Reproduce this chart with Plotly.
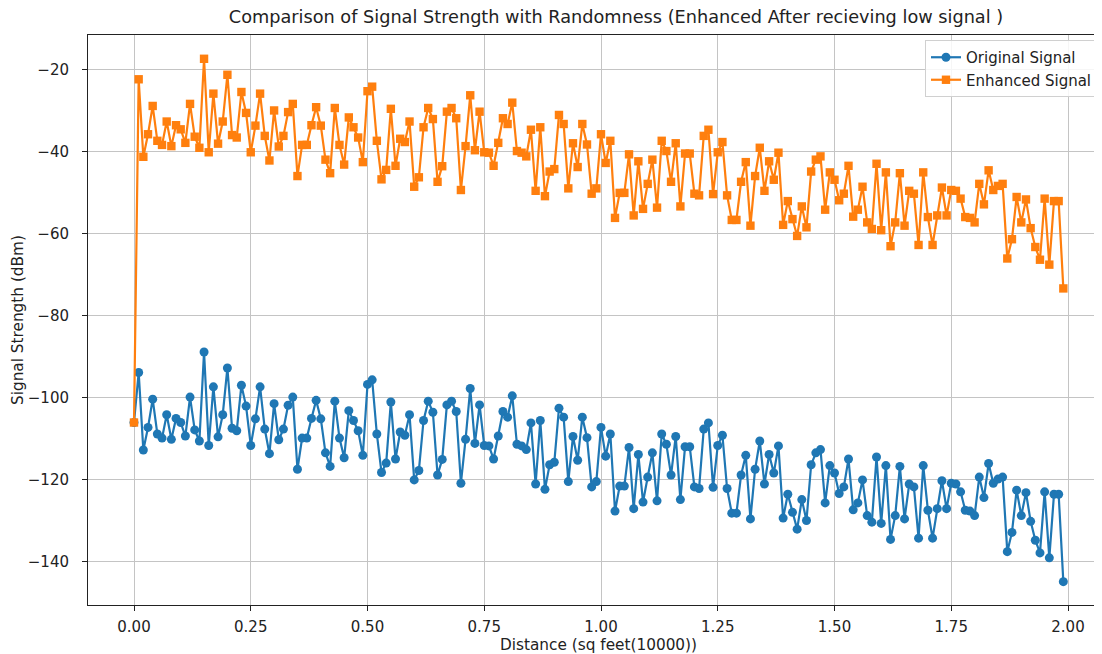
import plotly.graph_objects as go

distance = [round(i * 0.01, 2) for i in range(200)]

original_signal = [
    -106.0, -93.8, -112.7, -107.2, -100.3, -108.8, -109.8, -104.1, -110.1, -105.0,
    -106.0, -109.3, -99.8, -107.8, -110.5, -88.8, -111.6, -97.3, -109.5, -104.1,
    -92.7, -107.4, -108.0, -96.9, -102.0, -111.6, -105.1, -97.3, -107.6, -113.6,
    -101.4, -110.2, -107.6, -101.8, -99.8, -117.4, -109.8, -109.8, -105.0, -100.6,
    -105.1, -113.4, -116.7, -100.8, -109.8, -114.6, -103.1, -105.5, -108.0, -114.0,
    -96.7, -95.6, -108.8, -118.2, -115.9, -101.0, -114.9, -108.3, -109.1, -104.1,
    -120.0, -117.7, -105.5, -100.8, -103.5, -118.8, -115.0, -101.7, -100.8, -103.3,
    -120.8, -110.1, -97.7, -111.1, -101.7, -111.6, -111.7, -114.9, -109.3, -103.3,
    -104.7, -99.5, -111.3, -111.7, -112.6, -106.1, -121.0, -105.5, -122.3, -116.3,
    -115.7, -102.5, -104.7, -120.4, -109.4, -115.2, -104.7, -109.7, -121.7, -120.4,
    -107.2, -114.2, -108.8, -127.6, -121.5, -121.5, -112.1, -127.0, -113.8, -125.4,
    -119.3, -113.4, -125.1, -108.8, -111.3, -118.8, -109.4, -124.8, -111.9, -111.9,
    -121.7, -122.1, -107.6, -106.1, -121.8, -111.6, -109.1, -122.1, -128.1, -128.1,
    -118.8, -114.0, -129.5, -117.4, -110.5, -121.0, -113.8, -118.3, -111.7, -129.3,
    -123.5, -127.9, -132.0, -124.8, -129.9, -116.3, -113.4, -112.6, -125.6, -116.5,
    -118.3, -123.3, -121.7, -114.9, -127.3, -125.6, -120.0, -128.7, -130.3, -114.4,
    -130.6, -116.5, -134.5, -128.7, -116.7, -129.5, -121.0, -121.7, -134.2, -116.5,
    -127.4, -134.2, -127.0, -120.2, -127.0, -120.8, -121.0, -122.9, -127.4, -127.6,
    -128.7, -119.3, -124.3, -116.0, -120.8, -119.8, -119.3, -137.5, -132.8, -122.5,
    -128.7, -123.1, -130.1, -134.7, -137.8, -122.9, -139.0, -123.5, -123.5, -144.8,
]

enhanced_signal = [
    -106.0, -22.3, -41.2, -35.7, -28.8, -37.3, -38.3, -32.6, -38.6, -33.5,
    -34.5, -37.8, -28.3, -36.3, -39.0, -17.3, -40.1, -25.8, -38.0, -32.6,
    -21.2, -35.9, -36.5, -25.4, -30.5, -40.1, -33.6, -25.8, -36.1, -42.1,
    -29.9, -38.7, -36.1, -30.3, -28.3, -45.9, -38.3, -38.3, -33.5, -29.1,
    -33.6, -41.9, -45.2, -29.3, -38.3, -43.1, -31.6, -34.0, -36.5, -42.5,
    -25.2, -24.1, -37.3, -46.7, -44.4, -29.5, -43.4, -36.8, -37.6, -32.6,
    -48.5, -46.2, -34.0, -29.3, -32.0, -47.3, -43.5, -30.2, -29.3, -31.8,
    -49.3, -38.6, -26.2, -39.6, -30.2, -40.1, -40.2, -43.4, -37.8, -31.8,
    -33.2, -28.0, -39.8, -40.2, -41.1, -34.6, -49.5, -34.0, -50.8, -44.8,
    -44.2, -31.0, -33.2, -48.9, -37.9, -43.7, -33.2, -38.2, -50.2, -48.9,
    -35.7, -42.7, -37.3, -56.1, -50.0, -50.0, -40.6, -55.5, -42.3, -53.9,
    -47.8, -41.9, -53.6, -37.3, -39.8, -47.3, -37.9, -53.3, -40.4, -40.4,
    -50.2, -50.6, -36.1, -34.6, -50.3, -40.1, -37.6, -50.6, -56.6, -56.6,
    -47.3, -42.5, -58.0, -45.9, -39.0, -49.5, -42.3, -46.8, -40.2, -57.8,
    -52.0, -56.4, -60.5, -53.3, -58.4, -44.8, -41.9, -41.1, -54.1, -45.0,
    -46.8, -51.8, -50.2, -43.4, -55.8, -54.1, -48.5, -57.2, -58.8, -42.9,
    -59.1, -45.0, -63.0, -57.2, -45.2, -58.0, -49.5, -50.2, -62.7, -45.0,
    -55.9, -62.7, -55.5, -48.7, -55.5, -49.3, -49.5, -51.4, -55.9, -56.1,
    -57.2, -47.8, -52.8, -44.5, -49.3, -48.3, -47.8, -66.0, -61.3, -51.0,
    -57.2, -51.6, -58.6, -63.2, -66.3, -51.4, -67.5, -52.0, -52.0, -73.3,
]

x_ticks = [0.0, 0.25, 0.5, 0.75, 1.0, 1.25, 1.5, 1.75, 2.0]
x_tick_labels = ["0.00", "0.25", "0.50", "0.75", "1.00", "1.25", "1.50", "1.75", "2.00"]
y_ticks = [-140, -120, -100, -80, -60, -40, -20]
y_tick_labels = ["\u2212140", "\u2212120", "\u2212100", "\u221280", "\u221260", "\u221240", "\u221220"]

FONT = "DejaVu Sans"
# page body has an 8px margin; figure is sized to fill the rest of the window
OFF = 8
W, H = 1102 - OFF, 654 - OFF
PL, PR, PT, PB = 88, 1102, 35, 605  # plot area in page pixels
L, R, T, B = PL - OFF, 1102 - PR, PT - OFF, H - (PB - OFF)

fig = go.Figure()
fig.add_trace(go.Scatter(
    x=distance, y=original_signal, mode="lines+markers", name="Original Signal",
    line=dict(color="#1f77b4", width=2.2),
    marker=dict(symbol="circle", size=9, color="#1f77b4"),
))
fig.add_trace(go.Scatter(
    x=distance, y=enhanced_signal, mode="lines+markers", name="Enhanced Signal",
    line=dict(color="#ff7f0e", width=2.2),
    marker=dict(symbol="square", size=8.4, color="#ff7f0e"),
))

axis_common = dict(
    showgrid=True, gridcolor="#c4c4c4", gridwidth=1,
    zeroline=False, showline=True, linecolor="#222", linewidth=1,
    ticks="outside", ticklen=5, tickcolor="#222", tickwidth=1,
    tickfont=dict(family=FONT, size=15, color="#222"),
    automargin=False,
)

fig.update_layout(
    width=W, height=H,
    margin=dict(l=L, r=R, t=T, b=B, pad=0, autoexpand=False),
    paper_bgcolor="white", plot_bgcolor="white",
    font=dict(family=FONT, color="#222"),
    title=dict(
        text="Comparison of Signal Strength with Randomness (Enhanced After recieving low signal )",
        x=(616 - OFF) / W, xref="container", xanchor="center",
        y=1 - (17 - OFF) / H, yref="container", yanchor="middle",
        font=dict(family=FONT, size=17.7, color="#222"),
    ),
    xaxis=dict(range=[-0.0985, 2.0728], tickvals=x_ticks, ticktext=x_tick_labels,
               mirror=True, ticklabelstandoff=3, **axis_common),
    yaxis=dict(range=[-150.5, -11.5], tickvals=y_ticks, ticktext=y_tick_labels,
               ticklabelstandoff=10, **axis_common),
    legend=dict(
        x=(1098 - PL) / (PR - PL), y=(PB - 40) / (PB - PT), xanchor="right", yanchor="top",
        bgcolor="rgba(255,255,255,0.85)", bordercolor="#d0d0d0", borderwidth=1,
        font=dict(family=FONT, size=15, color="#222"),
    ),
    showlegend=True,
    annotations=[
        dict(text="Distance (sq feet(10000))", xref="paper", yref="paper",
             x=(598 - PL) / (PR - PL), y=(PB - 645) / (PB - PT),
             xanchor="center", yanchor="middle", showarrow=False,
             font=dict(family=FONT, size=15.3, color="#222")),
        dict(text="Signal Strength (dBm)", xref="paper", yref="paper",
             x=(18 - PL) / (PR - PL), y=(PB - 320) / (PB - PT),
             xanchor="center", yanchor="middle", showarrow=False, textangle=-90,
             font=dict(family=FONT, size=15.3, color="#222")),
    ],
)

fig.write_html("out.html")
